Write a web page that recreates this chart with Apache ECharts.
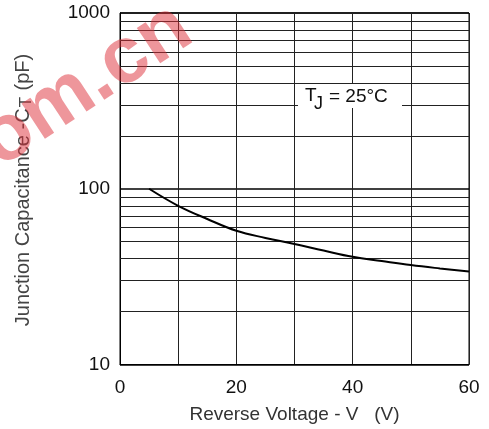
<!DOCTYPE html>
<html><head><meta charset="utf-8">
<script src="https://cdn.jsdelivr.net/npm/echarts/dist/echarts.min.js"></script>
<style>html,body{margin:0;padding:0;background:#fff}#c{width:489px;height:429px}</style>
</head><body><div id="c"></div>
<script>
// Data
const voltage     = [5, 10, 15, 20, 25, 30, 35, 40, 45, 50, 55, 60];
const capacitance = [100, 80, 67.3, 57.7, 52.5, 48.5, 44.5, 41, 38.8, 36.8, 35.2, 33.8];
const minorGrid   = [20, 30, 40, 50, 60, 70, 80, 90, 200, 300, 400, 500, 600, 700, 800, 900];
const xTickLabels = [0, 20, 40, 60];
const yTickLabels = [10, 100, 1000];

const FONT = '"Liberation Sans", Arial, Helvetica, sans-serif';
const chart = echarts.init(document.getElementById('c'), null, {renderer: 'canvas'});

chart.setOption({
  animation: false,
  backgroundColor: '#fff',
  grid: {left: 120, right: 20, top: 13, bottom: 64.5, show: true, borderColor: '#000', borderWidth: 1,
         containLabel: false, outerBoundsMode: 'none'},
  xAxis: {
    type: 'value', min: 0, max: 60, interval: 10,
    name: 'Reverse Voltage - V   (V)', nameLocation: 'middle', nameGap: 41,
    nameTextStyle: {fontFamily: FONT, fontSize: 19, color: '#333'},
    axisLine: {show: true, lineStyle: {color: '#000', width: 1}},
    axisTick: {show: false},
    axisLabel: {margin: 14, fontFamily: FONT, fontSize: 19, color: '#111',
      formatter: v => xTickLabels.includes(v) ? String(v) : ''},
    splitLine: {show: true, lineStyle: {color: '#222', width: 1}}
  },
  yAxis: {
    type: 'log', logBase: 10, min: 10, max: 1000,
    axisLine: {show: true, lineStyle: {color: '#000', width: 1}},
    axisTick: {show: false},
    axisLabel: {margin: 10, fontFamily: FONT, fontSize: 19, color: '#111',
      formatter: v => yTickLabels.includes(Math.round(v)) ? String(Math.round(v)) : ''},
    splitLine: {show: true, lineStyle: {color: '#000', width: 1.6}}
  },
  series: [
    {
      type: 'line', data: [], silent: true,
      markLine: {
        silent: true, symbol: ['none', 'none'], animation: false,
        label: {show: false},
        lineStyle: {type: 'solid', color: '#222', width: 1},
        data: minorGrid.map(v => ({yAxis: v}))
      }
    },
    {
      type: 'line', smooth: 0.4, showSymbol: false, z: 10,
      lineStyle: {color: '#000', width: 2},
      data: voltage.map((v, i) => [v, capacitance[i]])
    }
  ],
  graphic: [
    {type: 'rect', z: 100, shape: {x: 298, y: 84, width: 104, height: 24}, style: {fill: '#fff'}},
    {type: 'text', z: 101, x: 305, y: 86, style: {text: 'T', fontFamily: FONT, fontSize: 19, fill: '#111', verticalAlign: 'top'}},
    {type: 'text', z: 101, x: 314, y: 95, style: {text: 'J', fontFamily: FONT, fontSize: 18, fill: '#111', verticalAlign: 'top'}},
    {type: 'text', z: 101, x: 329, y: 87, style: {text: '= 25°C', fontFamily: FONT, fontSize: 19, fill: '#111', verticalAlign: 'top'}},
    {type: 'text', z: 100, x: 23, y: 190, rotation: Math.PI / 2,
      style: {
        text: '{n|Junction Capacitance -C}{s|T}{n| (pF)}',
        align: 'center', verticalAlign: 'middle',
        rich: {
          n: {fontFamily: FONT, fontSize: 20, fill: '#444', lineHeight: 24, verticalAlign: 'middle'},
          s: {fontFamily: FONT, fontSize: 17, fill: '#444', lineHeight: 24, verticalAlign: 'bottom', padding: [11, 1, 0, 1]}
        }
      }},
    {type: 'text', z: 200, x: -28, y: 208, rotation: 0.58,
      style: {text: 'com.cn', fontFamily: FONT, fontWeight: 'bold', fontSize: 80, fill: 'rgba(222,45,55,0.5)', verticalAlign: 'bottom'}}
  ]
});
</script></body></html>
